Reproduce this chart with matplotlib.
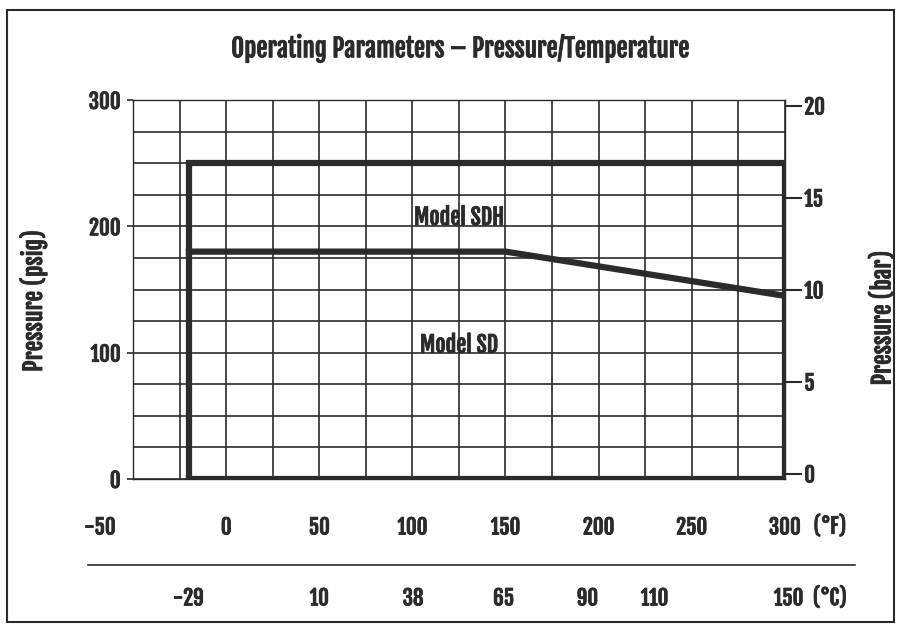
import matplotlib
matplotlib.use("Agg")
import matplotlib.pyplot as plt
import matplotlib.transforms as mtransforms
import matplotlib.patheffects as pe
from matplotlib.lines import Line2D
from matplotlib.patches import Rectangle
import numpy as np

ink = '#2b2b2b'

plt.rcParams['font.family'] = ['Fjalla One', 'Oswald', 'DejaVu Sans']
plt.rcParams['font.weight'] = 'bold'
plt.rcParams['axes.labelweight'] = 'bold'
# fake a heavier weight
bold = [pe.withStroke(linewidth=0.6, foreground=ink)]

# envelope of model SDH (deg F, psig)
sdh_temp = [-20, -20, 300, 300, -20]
sdh_pres = [0, 250, 250, 0, 0]
# model SD limit line
sd_temp = [-20, 150, 300]
sd_pres = [180, 180, 145]

f_ticks = [-50, 0, 50, 100, 150, 200, 250, 300]
c_ticks = [-29, 10, 38, 65, 90, 110, 150]
psig_ticks = [0, 100, 200, 300]
bar_ticks = [0, 5, 10, 15, 20]


def c_to_f(c):
    return c * 9 / 5 + 32


fig = plt.figure(figsize=(8.99, 6.27), dpi=100)
ax = fig.add_axes([0.148, 0.236, 0.725, 0.6045])

ax.set_xlim(-50, 300)
ax.set_ylim(0, 300)
ax.set_xticks(np.arange(-50, 301, 25), minor=True)
ax.set_yticks(np.arange(0, 301, 25), minor=True)
ax.grid(True, which='both', color=ink, lw=1.2)
for s in ax.spines.values():
    s.set_color(ink)
    s.set_linewidth(1.0)

ax.plot(sdh_temp, sdh_pres, color=ink, lw=4.5, solid_joinstyle='miter')
ax.plot(sd_temp, sd_pres, color=ink, lw=4.5)

ax.text(125, 207, 'Model SDH', ha='center', va='center', fontsize=16, color=ink, path_effects=bold)
ax.text(125, 106, 'Model SD', ha='center', va='center', fontsize=16, color=ink, path_effects=bold)

ax.set_xticks(f_ticks)
ax.set_xticklabels([str(v) for v in f_ticks], fontsize=15, color=ink, path_effects=bold)
ax.tick_params(axis='x', which='both', length=0, pad=27)
lbl = ax.get_xticklabels()[0]
lbl.set_transform(lbl.get_transform() + mtransforms.ScaledTranslation(-0.33, 0, fig.dpi_scale_trans))

ax.set_yticks(psig_ticks)
ax.set_yticklabels([str(v) for v in psig_ticks], fontsize=15, color=ink, path_effects=bold)
ax.tick_params(axis='y', which='major', length=4, width=1.2, pad=5, color=ink)
ax.tick_params(axis='y', which='minor', length=0)
ax.set_ylabel('Pressure (psig)', fontsize=17, color=ink, path_effects=bold)
ax.yaxis.set_label_coords(-0.132, 0.47)

# Celsius scale below the Fahrenheit one
xt = mtransforms.blended_transform_factory(ax.transData, ax.transAxes)
for c in c_ticks:
    ax.text(c_to_f(c), -0.315, str(c), transform=xt, ha='center', va='center',
            fontsize=15, color=ink, path_effects=bold, clip_on=False)

# bar scale on the right
ax2 = ax.twinx()
ax2.set_ylim(-0.3, 20.3)
ax2.set_yticks(bar_ticks)
ax2.set_yticklabels([str(v) for v in bar_ticks], fontsize=15, color=ink, path_effects=bold)
ax2.tick_params(axis='y', length=12, width=1.5, pad=2, color=ink)
for s in ax2.spines.values():
    s.set_visible(False)
ax2.set_ylabel('Pressure (bar)', fontsize=17, color=ink, rotation=90, path_effects=bold)
ax2.yaxis.set_label_coords(1.13, 0.425)

fig.text(0.512, 0.923, 'Operating Parameters \u2013 Pressure/Temperature',
         ha='center', va='center', fontsize=18, color=ink, path_effects=bold)
fig.text(0.923, 0.16, '(\u00b0F)', ha='center', va='center', fontsize=15, color=ink, path_effects=bold)
fig.text(0.923, 0.046, '(\u00b0C)', ha='center', va='center', fontsize=15, color=ink, path_effects=bold)

fig.add_artist(Line2D([0.098, 0.951], [0.099, 0.099], transform=fig.transFigure,
                      color=ink, lw=1.2))
fig.add_artist(Rectangle((0.008, 0.008), 0.986, 0.976, transform=fig.transFigure,
                         fill=False, edgecolor=ink, lw=1.5))

fig.savefig('out.png', dpi=100)
